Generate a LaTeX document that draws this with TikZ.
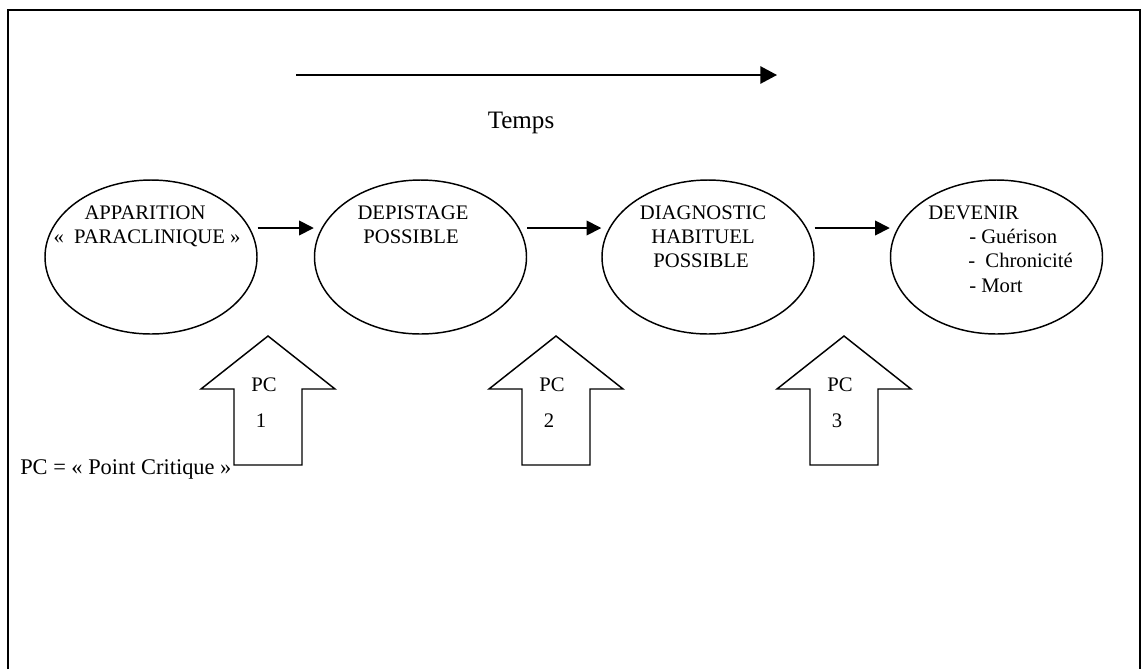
\documentclass[tikz,border=0pt]{standalone}
\usepackage{fontspec}
\setmainfont{Liberation Serif}
\usetikzlibrary{shapes.geometric,arrows.meta}
\begin{document}
\begin{tikzpicture}[x=0.75pt,y=-0.75pt,
  oval/.style={ellipse,draw,line width=1.1pt,inner sep=0pt,minimum width=159pt,minimum height=115.5pt},
  harrow/.style={line width=1.3pt,-{Triangle[length=11pt,width=11pt]}},
  upshape/.style={draw,line width=1.1pt,line join=miter},
  lbl/.style={font=\fontsize{15.5pt}{18pt}\selectfont,inner sep=0pt},
  big/.style={font=\fontsize{18.8pt}{22pt}\selectfont,inner sep=0pt},
  legendfont/.style={font=\fontsize{16.8pt}{20pt}\selectfont,inner sep=0pt}]
\useasboundingbox (0,0) rectangle (1147,669);
% frame
\draw[line width=1.6pt] (8,669) -- (8,10) -- (1140,10) -- (1140,669);
% time axis
\coordinate (t0) at (296,75);
\coordinate (t1) at (777,75);
\draw[line width=1.3pt,-{Triangle[length=12.5pt,width=13pt]}] (t0) -- (t1);
\node[big,anchor=base] (temps) at (521,128) {Temps};
% ellipses
\node[oval] (e1) at (151,257) {};
\node[oval] (e2) at (420.5,257) {};
\node[oval] (e3) at (708,257) {};
\node[oval] (e4) at (996.5,257) {};
\coordinate (h) at (0,228);
\draw[harrow] (e1.east |- h) -- (e2.west |- h);
\draw[harrow] (e2.east |- h) -- (e3.west |- h);
\draw[harrow] (e3.east |- h) -- (e4.west |- h);
% ellipse texts
\node[lbl,anchor=base] (a1) at (145,219) {APPARITION};
\node[lbl,anchor=base] (a2) at (147,243) {«\ \ PARACLINIQUE »};
\node[lbl,anchor=base] (b1) at (413,219) {DEPISTAGE};
\node[lbl,anchor=base] (b2) at (411,243) {POSSIBLE};
\node[lbl,anchor=base] (c1) at (703,219) {DIAGNOSTIC};
\node[lbl,anchor=base] (c2) at (703,243) {HABITUEL};
\node[lbl,anchor=base] (c3) at (701,267) {POSSIBLE};
\node[lbl,anchor=base west] (d1) at (928,219) {DEVENIR};
\node[lbl,anchor=base west] (d2) at (969,243) {- Guérison};
\node[lbl,anchor=base west] (d3) at (968,267) {-\ \ Chronicité};
\node[lbl,anchor=base west] (d4) at (969,292) {- Mort};
% up arrows
\foreach \cx/\tip/\n [count=\i] in {268/268/1,556/556/2,844/844/3}{
  \draw[upshape] (\cx-34,465) -- (\cx-34,389) -- (\cx-67,389) -- (\tip,336)
     -- (\cx+67,389) -- (\cx+34,389) -- (\cx+34,465) -- cycle;
  \node[lbl,anchor=base] (pc\i) at (\cx-4,391) {PC};
  \node[lbl,anchor=base] (n\i) at (\cx-7,427) {\n};
}
\node[legendfont,anchor=base west] (legend) at (20,474) {PC = « Point Critique »};
\end{tikzpicture}
\end{document}
